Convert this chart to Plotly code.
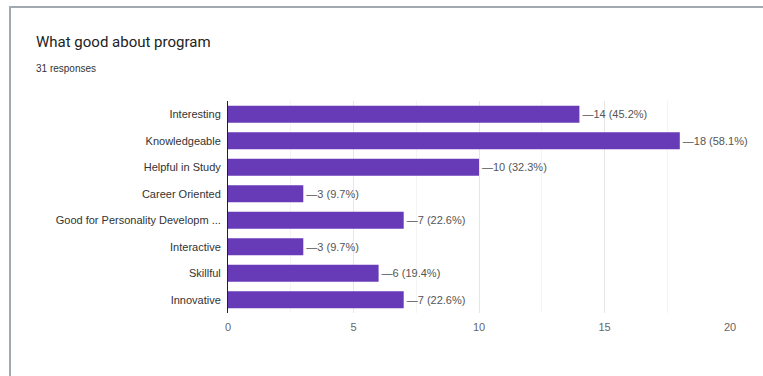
import plotly.graph_objects as go

# survey answers, top to bottom as shown
categories = [
    "Interesting",
    "Knowledgeable",
    "Helpful in Study",
    "Career Oriented",
    "Good for Personality Developm ...",
    "Interactive",
    "Skillful",
    "Innovative",
]
counts = [14, 18, 10, 3, 7, 3, 6, 7]
percents = [45.2, 58.1, 32.3, 9.7, 22.6, 9.7, 19.4, 22.6]
total_responses = 31
x_ticks = [0, 5, 10, 15, 20]

W, H = 763, 376
L, R, T, B = 228, 33, 101, 63
pw, ph = W - L - R, H - T - B

labels = [f"\u2014{c} ({p}%)" for c, p in zip(counts, percents)]

fig = go.Figure()
fig.add_trace(
    go.Bar(
        x=counts,
        y=categories,
        orientation="h",
        marker=dict(color="#673ab7", line=dict(width=0)),
        text=labels,
        textposition="outside",
        textfont=dict(family="Liberation Sans, Arial", size=11, color="#555555"),
        cliponaxis=False,
        width=0.64,
    )
)

fig.update_yaxes(
    autorange="reversed",
    showline=True,
    linecolor="#222222",
    linewidth=1,
    ticks="",
    ticklabelstandoff=4,
    tickfont=dict(family="Liberation Sans, Arial", size=11, color="#333333"),
)
fig.update_xaxes(
    range=[0, 20],
    tickvals=x_ticks,
    showgrid=True,
    gridcolor="#e6e6e6",
    zeroline=False,
    minor=dict(dtick=2.5, showgrid=True, gridcolor="#f4f4f4"),
    tickfont=dict(family="Liberation Sans, Arial", size=11, color="#666666"),
    ticklabelstandoff=6,
)

# card border around the question (pixel positions converted to paper units)
def px_x(v):
    return (v - L) / pw

def px_y(v):
    return (H - B - v) / ph

fig.add_shape(
    type="rect", xref="paper", yref="paper",
    x0=px_x(10), x1=px_x(770), y0=px_y(390), y1=px_y(7),
    line=dict(color="#a3a9b0", width=2), fillcolor="rgba(0,0,0,0)",
    layer="below",
)

fig.add_annotation(
    text="What good about program", xref="paper", yref="paper",
    x=px_x(34), y=px_y(42), xanchor="left", yanchor="middle",
    showarrow=False, font=dict(family="Roboto", size=15, color="#222222"),
)
fig.add_annotation(
    text=f"{total_responses} responses", xref="paper", yref="paper",
    x=px_x(34), y=px_y(68), xanchor="left", yanchor="middle",
    showarrow=False, font=dict(family="Liberation Sans, Arial", size=10, color="#333333"),
)

fig.update_layout(
    width=W, height=H,
    margin=dict(l=L, r=R, t=T, b=B),
    paper_bgcolor="white",
    plot_bgcolor="white",
    showlegend=False,
    bargap=0.36,
)

fig.write_html(
    "out.html",
    config={"displayModeBar": False},
    post_script="document.body.style.margin='0';",
)
